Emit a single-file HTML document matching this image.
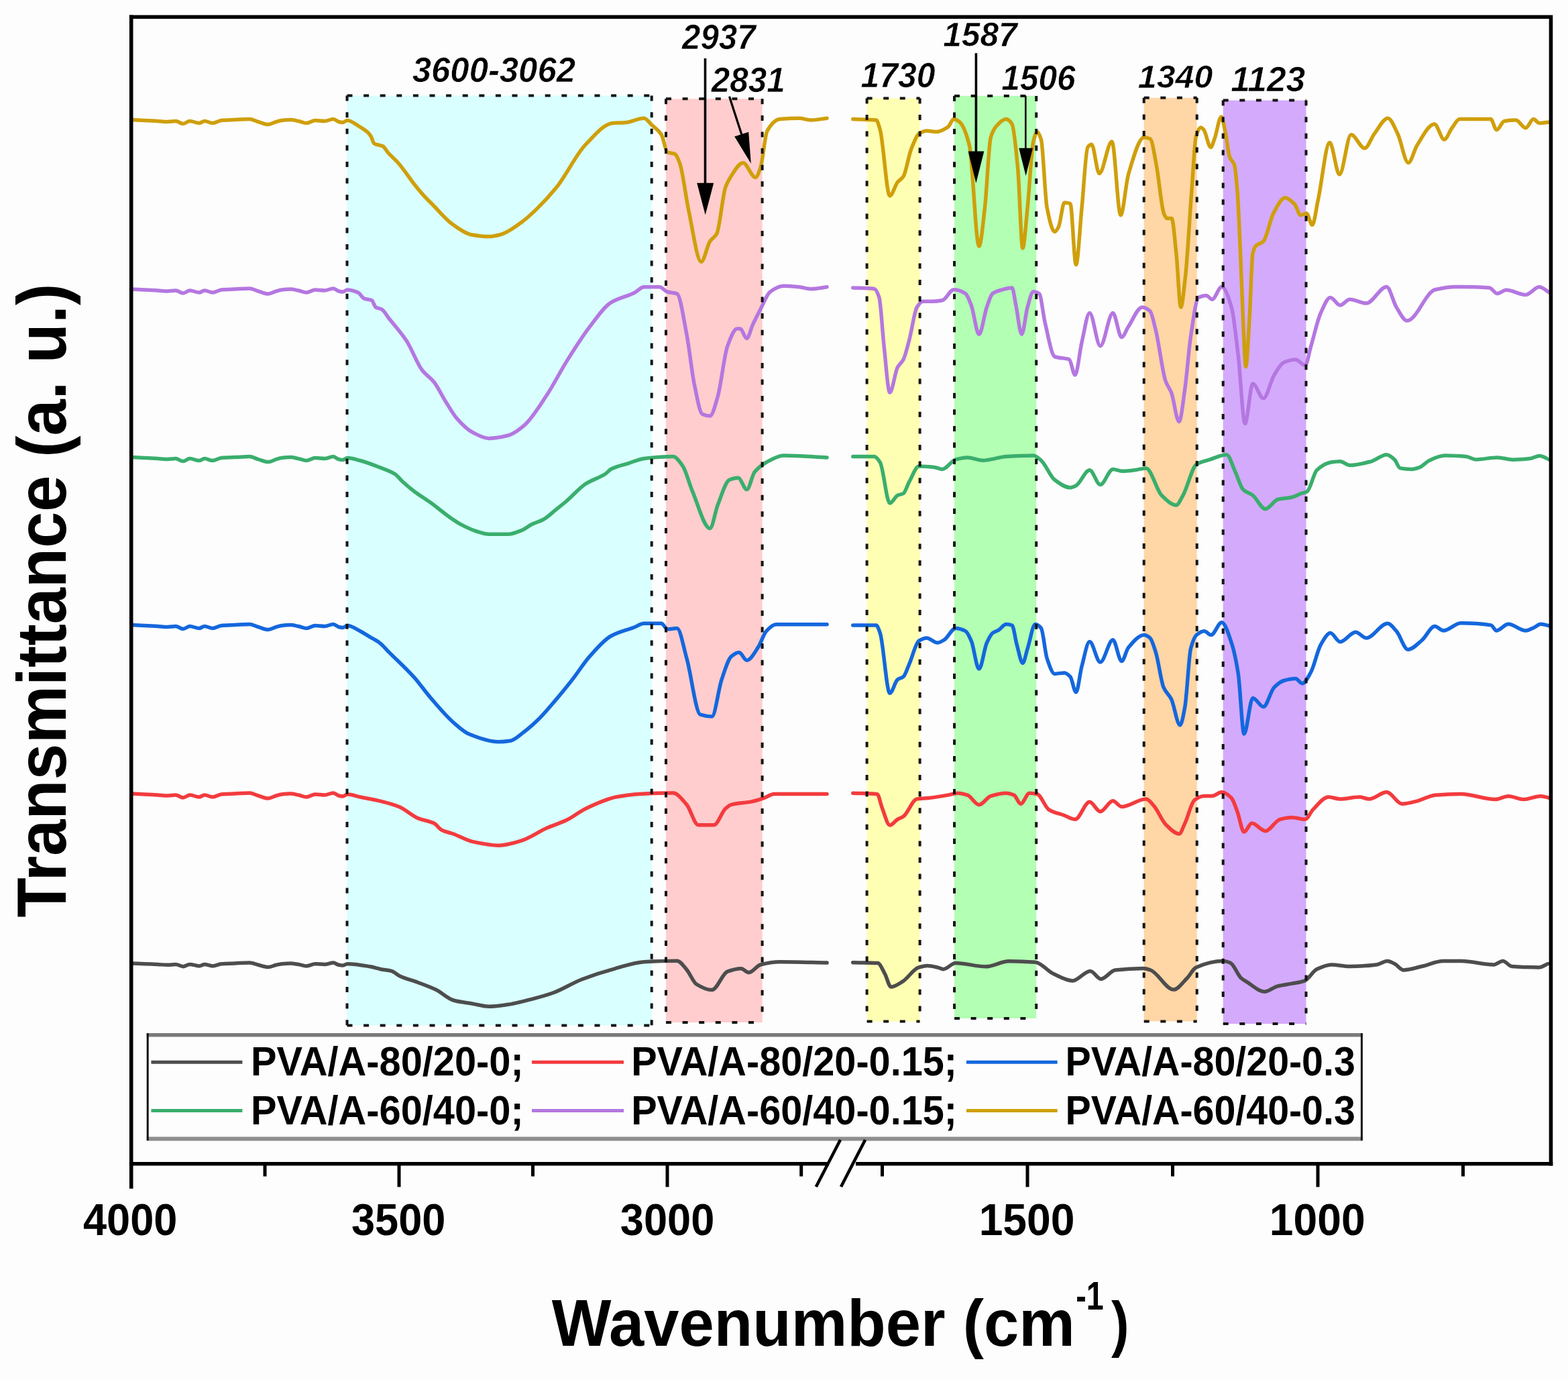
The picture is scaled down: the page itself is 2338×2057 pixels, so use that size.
<!DOCTYPE html>
<html><head><meta charset="utf-8"><title>FTIR spectra</title>
<style>html,body{margin:0;padding:0;background:#fdfdfd;overflow:hidden}svg{display:block}</style>
</head><body>
<svg width="2338" height="2057" viewBox="0 0 2338 2057">
<rect width="2338" height="2057" fill="#fdfdfd"/>
<rect x="517.5" y="142.6" width="454.2" height="1385.8" fill="#d9ffff"/>
<rect x="993" y="147.3" width="143.6" height="1376.7" fill="#ffcdcd"/>
<rect x="1292.6" y="146.4" width="79" height="1376.2" fill="#ffffb3"/>
<rect x="1423" y="142.9" width="122.2" height="1375.1" fill="#b3ffb3"/>
<rect x="1705.7" y="145.8" width="79" height="1376.6" fill="#ffd6a5"/>
<rect x="1823.7" y="149.6" width="123.8" height="1376.5" fill="#d4aafd"/>
<g fill="none" stroke-width="5.5" stroke-linejoin="round" stroke-linecap="round">
<path stroke="#4d4d4d" d="M196 1435.9C202.3 1436.2 208.7 1436.4 215 1436.7C221.7 1437 228.3 1437.2 235 1437.5C240 1437.7 245 1438.3 250 1438.3C254 1438.3 258 1437.5 262 1437.5C265.7 1437.5 269.3 1440.7 273 1440.7C276.3 1440.7 279.7 1437.5 283 1437.5C287.7 1437.5 292.3 1439.9 297 1439.9C299.7 1439.9 302.3 1437.5 305 1437.5C309 1437.5 313 1439.9 317 1439.9C321.3 1439.9 325.7 1437 330 1436.7C336.7 1436.2 343.3 1436.2 350 1435.9C357.3 1435.6 364.7 1435.1 372 1435.1C376.3 1435.1 380.7 1437.3 385 1438.3C390 1439.4 395 1441.5 400 1441.5C404 1441.5 408 1439.2 412 1438.3C414.7 1437.7 417.3 1437 420 1436.7C424.3 1436.3 428.7 1435.9 433 1435.9C437 1435.9 441 1436.9 445 1437.5C449 1438.1 453 1439.9 457 1439.9C461.3 1439.9 465.7 1436.7 470 1436.7C474.7 1436.7 479.3 1437.5 484 1437.5C488.3 1437.5 492.7 1435.1 497 1435.1C499.7 1435.1 502.3 1437.8 505 1438.3C507 1438.7 509 1439.1 511 1439.1C513.3 1439.1 515.7 1436.7 518 1436.7C529.3 1436.7 540.7 1438.9 552 1440.8C557.3 1441.7 562.5 1443.6 567.8 1444.7C573.1 1445.8 578.4 1446 583.7 1447.4C588.1 1448.6 592.5 1453.3 596.9 1455.3C605.7 1459.3 614.5 1461.2 623.3 1464.5C632.1 1467.8 640.9 1470.9 649.7 1475.1C658.5 1479.3 667.3 1488.6 676.1 1491C685.8 1493.7 695.5 1494.5 705.2 1496.2C713.1 1497.6 721 1500.2 728.9 1500.2C738.5 1500.2 748.2 1498.6 757.8 1497.3C770.3 1495.6 782.9 1491.9 795.4 1488.6C805.1 1486.1 814.7 1483.5 824.4 1480C838.9 1474.8 853.3 1465.3 867.8 1459.7C884.2 1453.4 900.5 1448.2 916.9 1443.8C931.4 1439.9 945.8 1434.5 960.3 1433.7C976.7 1432.8 993.1 1432.2 1009.5 1432.2C1014.3 1432.2 1019.1 1439.9 1023.9 1445.3C1028.7 1450.8 1033.6 1464 1038.4 1467C1046.1 1471.8 1053.8 1475.6 1061.5 1475.6C1069.2 1475.6 1077 1451 1084.7 1448.2C1091.4 1445.8 1098.2 1443.8 1104.9 1443.8C1108.8 1443.8 1112.6 1449.6 1116.5 1449.6C1122.3 1449.6 1128.1 1439.5 1133.9 1438C1143.5 1435.5 1153.2 1433.7 1162.8 1433.7C1186.2 1433.7 1209.6 1434.6 1233 1435.1"/>
<path stroke="#4d4d4d" d="M1271.7 1434.7C1284 1435 1296.4 1434.9 1308.7 1435.5C1312.2 1435.7 1315.8 1445.1 1319.3 1451.3C1322.4 1456.7 1325.4 1471.1 1328.5 1471.1C1334.2 1471.1 1340 1466.6 1345.7 1463.2C1353.6 1458.5 1361.6 1444.6 1369.5 1442.1C1373.9 1440.7 1378.3 1439.4 1382.7 1439.4C1388 1439.4 1393.2 1440.9 1398.5 1442.1C1401.1 1442.7 1403.8 1444.7 1406.4 1444.7C1412.6 1444.7 1418.7 1435.5 1424.9 1435.5C1439.9 1435.5 1454.9 1440.8 1469.9 1440.8C1481.3 1440.8 1492.8 1432.8 1504.2 1432.8C1517.4 1432.8 1530.6 1433.3 1543.8 1434.2C1552.6 1434.8 1561.5 1447.2 1570.3 1451.3C1580 1455.8 1589.6 1461.9 1599.3 1461.9C1608.1 1461.9 1616.9 1447.4 1625.7 1447.4C1631 1447.4 1636.3 1459.3 1641.6 1459.3C1648.6 1459.3 1655.7 1446.9 1662.7 1446C1676.8 1444.3 1690.9 1443.4 1705 1443.4C1708.5 1443.4 1712.1 1444.8 1715.6 1446C1727 1450 1738.5 1475.1 1749.9 1475.1C1756.6 1475.1 1763.3 1464.7 1770 1458C1774.5 1453.5 1779 1443.9 1783.5 1441.9C1796.9 1436 1810.4 1432.5 1823.8 1432.5C1827.4 1432.5 1831 1433.7 1834.6 1435.2C1840 1437.4 1845.3 1453.3 1850.7 1458C1853.4 1460.4 1856.1 1461.7 1858.8 1463.4C1867.8 1468.9 1876.7 1478.2 1885.7 1478.2C1892 1478.2 1898.2 1471.7 1904.5 1470.1C1911.7 1468.2 1918.9 1467.5 1926.1 1466.1C1932.4 1464.9 1938.6 1464.3 1944.9 1462.1C1951.2 1459.9 1957.4 1447.6 1963.7 1444.6C1970.9 1441.2 1978.1 1437.9 1985.3 1437.9C1994.3 1437.9 2003.2 1440.5 2012.2 1440.5C2025.6 1440.5 2039.1 1439.5 2052.5 1437.9C2057.9 1437.3 2063.3 1432.5 2068.7 1432.5C2072.3 1432.5 2075.8 1434.8 2079.4 1436.5C2083.9 1438.7 2088.4 1445.9 2092.9 1445.9C2101.9 1445.9 2110.8 1442.5 2119.8 1440.5C2130.6 1438.1 2141.3 1432.5 2152.1 1432.5C2161.1 1432.5 2170 1432.5 2179 1432.5C2195.1 1432.5 2211.3 1437.9 2227.4 1437.9C2231.9 1437.9 2236.4 1432.5 2240.9 1432.5C2245.4 1432.5 2249.8 1440.2 2254.3 1440.5C2267.8 1441.5 2281.2 1441.9 2294.7 1441.9C2299.2 1441.9 2303.7 1438.3 2308.2 1436.5"/>
<path stroke="#f33b3e" d="M196 1183C202.3 1183.3 208.7 1183.7 215 1184C221.7 1184.3 228.3 1184.6 235 1185C240 1185.3 245 1186 250 1186C254 1186 258 1185 262 1185C265.7 1185 269.3 1189 273 1189C276.3 1189 279.7 1185 283 1185C287.7 1185 292.3 1188 297 1188C299.7 1188 302.3 1185 305 1185C309 1185 313 1188 317 1188C321.3 1188 325.7 1184.4 330 1184C336.7 1183.4 343.3 1183.3 350 1183C357.3 1182.7 364.7 1182 372 1182C376.3 1182 380.7 1184.8 385 1186C390 1187.4 395 1190 400 1190C404 1190 408 1187.1 412 1186C414.7 1185.2 417.3 1184.3 420 1184C424.3 1183.5 428.7 1183 433 1183C437 1183 441 1184.2 445 1185C449 1185.8 453 1188 457 1188C461.3 1188 465.7 1184 470 1184C474.7 1184 479.3 1185 484 1185C488.3 1185 492.7 1182 497 1182C499.7 1182 502.3 1185.3 505 1186C507 1186.5 509 1187 511 1187C513.3 1187 515.7 1184 518 1184C524.4 1184 530.7 1186.7 537.1 1188C546.7 1190 556.4 1191.5 566 1193.8C575.7 1196.1 585.3 1198.6 595 1202.5C604.6 1206.4 614.3 1216 623.9 1219.9C631.6 1223 639.3 1223.4 647 1227.1C650.9 1229 654.7 1235.3 658.6 1237.2C664.4 1240.1 670.1 1240.9 675.9 1243C685.5 1246.5 695.2 1252.5 704.8 1254.6C717.7 1257.4 730.5 1260.2 743.4 1260.2C755 1260.2 766.5 1256.3 778.1 1252.9C790.6 1249.2 803.2 1239.6 815.7 1234.1C825.3 1229.9 835 1227.2 844.6 1222.6C854.2 1218 863.9 1209.7 873.5 1205.2C888.9 1197.9 904.4 1190.6 919.8 1187.8C931.4 1185.7 942.9 1184.1 954.5 1183.5C970.9 1182.7 987.3 1182.1 1003.7 1182.1C1010.4 1182.1 1017.2 1191.6 1023.9 1199.4C1029.7 1206.1 1035.5 1229.8 1041.3 1229.8C1049 1229.8 1056.7 1229.8 1064.4 1229.8C1070.2 1229.8 1076 1210.3 1081.8 1205.2C1084.7 1202.7 1087.6 1200.2 1090.5 1199.4C1100.1 1196.8 1109.8 1197 1119.4 1195.1C1126.1 1193.8 1132.9 1191.6 1139.6 1189.3C1144.4 1187.7 1149.3 1183.5 1154.1 1183.5C1180.4 1183.5 1206.7 1183.5 1233 1183.5"/>
<path stroke="#f33b3e" d="M1271.8 1182.2C1283.9 1182.7 1295.9 1182.4 1308 1183.7C1310.4 1184 1312.8 1197.9 1315.2 1203.9C1319.1 1213.6 1322.9 1230 1326.8 1230C1330.6 1230 1334.5 1223.6 1338.3 1221.3C1341.2 1219.6 1344.1 1219 1347 1217C1353.8 1212.4 1360.5 1191.9 1367.3 1190.9C1373.1 1190 1378.8 1190.1 1384.6 1189.5C1394.2 1188.5 1403.9 1186.8 1413.5 1185.1C1418.3 1184.3 1423.2 1182.2 1428 1182.2C1432.8 1182.2 1437.7 1183.6 1442.5 1185.1C1448.3 1186.9 1454 1199.6 1459.8 1199.6C1465.6 1199.6 1471.4 1188.4 1477.2 1186.6C1484.9 1184.2 1492.6 1182.2 1500.3 1182.2C1504.2 1182.2 1508 1183.5 1511.9 1185.1C1515.3 1186.5 1518.6 1198.2 1522 1198.2C1526.3 1198.2 1530.7 1182.2 1535 1182.2C1538.9 1182.2 1542.7 1182.8 1546.6 1183.7C1552.4 1185 1558.1 1203.3 1563.9 1206.8C1571.6 1211.5 1579.4 1212.6 1587.1 1215.5C1592.4 1217.5 1597.7 1221.3 1603 1221.3C1610.2 1221.3 1617.5 1195.3 1624.7 1195.3C1630 1195.3 1635.3 1209.7 1640.6 1209.7C1646.9 1209.7 1653.1 1193.8 1659.4 1193.8C1663.7 1193.8 1668.1 1202.5 1672.4 1202.5C1684.6 1202.5 1696.7 1191 1708.9 1191C1712.8 1191 1716.6 1196.8 1720.5 1201.1C1726.3 1207.5 1732.1 1222.8 1737.9 1228.6C1744.6 1235.3 1751.4 1243 1758.1 1243C1761 1243 1763.9 1233.1 1766.8 1227.1C1771.6 1217.2 1776.4 1195.7 1781.2 1192.4C1786 1189.1 1790.9 1186.6 1795.7 1186.6C1799.6 1186.6 1803.4 1186.6 1807.3 1186.6C1812.1 1186.6 1816.9 1180.8 1821.7 1180.8C1826.5 1180.8 1831.4 1184.6 1836.2 1189.5C1839.1 1192.4 1842 1202.2 1844.9 1209.8C1848.3 1218.6 1851.6 1240.1 1855 1240.1C1858.9 1240.1 1862.7 1227.1 1866.6 1227.1C1873.3 1227.1 1880.1 1238.7 1886.8 1238.7C1894 1238.7 1901.3 1223.2 1908.5 1221.3C1914.3 1219.7 1920.1 1218.4 1925.9 1218.4C1932.6 1218.4 1939.4 1221.3 1946.1 1221.3C1950 1221.3 1953.8 1210.8 1957.7 1206.9C1965.4 1199.1 1973.1 1188 1980.8 1188C1986.6 1188 1992.4 1191 1998.2 1191C2007.8 1191 2017.5 1188 2027.1 1188C2031.9 1188 2036.8 1191 2041.6 1191C2050.3 1191 2058.9 1180.8 2067.6 1180.8C2075.3 1180.8 2083 1198.2 2090.7 1198.2C2098.4 1198.2 2106.2 1195.7 2113.9 1193.8C2122.4 1191.7 2130.9 1185.9 2139.4 1185.2C2152.3 1184.1 2165.2 1183.5 2178.1 1183.5C2195.3 1183.5 2212.5 1191.6 2229.7 1191.6C2236.1 1191.6 2242.6 1186.8 2249 1186.8C2256.5 1186.8 2264.1 1191.6 2271.6 1191.6C2280.2 1191.6 2288.8 1186.8 2297.4 1186.8C2302.3 1186.8 2307.1 1188.9 2312 1190"/>
<path stroke="#1467dd" d="M196 931.5C202.3 931.8 208.7 932.2 215 932.5C221.7 932.8 228.3 933.1 235 933.5C240 933.8 245 934.5 250 934.5C254 934.5 258 933.5 262 933.5C265.7 933.5 269.3 937.5 273 937.5C276.3 937.5 279.7 933.5 283 933.5C287.7 933.5 292.3 936.5 297 936.5C299.7 936.5 302.3 933.5 305 933.5C309 933.5 313 936.5 317 936.5C321.3 936.5 325.7 932.9 330 932.5C336.7 931.9 343.3 931.8 350 931.5C357.3 931.2 364.7 930.5 372 930.5C376.3 930.5 380.7 933.3 385 934.5C390 935.9 395 938.5 400 938.5C404 938.5 408 935.6 412 934.5C414.7 933.7 417.3 932.8 420 932.5C424.3 932 428.7 931.5 433 931.5C437 931.5 441 932.7 445 933.5C449 934.3 453 936.5 457 936.5C461.3 936.5 465.7 932.5 470 932.5C474.7 932.5 479.3 933.5 484 933.5C488.3 933.5 492.7 930.5 497 930.5C499.7 930.5 502.3 933.8 505 934.5C507 935 509 935.5 511 935.5C513.3 935.5 515.7 932.5 518 932.5C524.4 932.5 530.7 937.5 537.1 940.7C541.9 943.1 546.7 946.5 551.5 949.4C556.3 952.3 561.2 954.5 566 958.1C570.8 961.7 575.7 967.8 580.5 972.6C593 985.1 605.5 996.2 618 1010.2C625.7 1018.9 633.5 1030.1 641.2 1039.1C652.8 1052.6 664.3 1066.6 675.9 1076.7C683.6 1083.4 691.3 1090.8 699 1094C713.8 1100.1 728.6 1105.7 743.4 1105.7C749.2 1105.7 754.9 1105.1 760.7 1104.2C767.5 1103.2 774.2 1096.2 781 1091.2C788.7 1085.5 796.4 1078.6 804.1 1071C811.8 1063.4 819.6 1054 827.3 1044.9C836 1034.8 844.6 1024.2 853.3 1013.1C862 1002 870.6 988.1 879.3 978.4C889.9 966.5 900.5 953.7 911.1 948C922.7 941.7 934.2 939.5 945.8 935C950.6 933.1 955.5 929.2 960.3 929.2C969 929.2 977.6 929.2 986.3 929.2C989.2 929.2 992.1 937.9 995 937.9C999.8 937.9 1004.7 936.5 1009.5 936.5C1014.3 936.5 1019.1 964.4 1023.9 981.3C1030.7 1005.1 1037.4 1063.1 1044.2 1065.2C1050 1067 1055.7 1068.1 1061.5 1068.1C1066.3 1068.1 1071.2 1027.3 1076 1013.1C1080.8 998.9 1085.7 982.3 1090.5 978.4C1094.3 975.3 1098.2 972.6 1102 972.6C1105.9 972.6 1109.7 984.2 1113.6 984.2C1119.4 984.2 1125.2 972.6 1131 963.9C1134.8 958.1 1138.7 944.8 1142.5 940.8C1147.3 935.7 1152.2 930.7 1157 930.7C1182.3 930.7 1207.7 930.7 1233 930.7"/>
<path stroke="#1467dd" d="M1271.8 932.1C1283.4 932.1 1294.9 932.1 1306.5 932.1C1308.4 932.1 1310.4 938.2 1312.3 943.6C1317.1 957.1 1322 1033.3 1326.8 1033.3C1330.6 1033.3 1334.5 1015.9 1338.3 1013C1341.2 1010.8 1344.1 1011 1347 1008.7C1349.9 1006.4 1352.8 996.5 1355.7 989.9C1360.5 979 1365.4 958.2 1370.2 955.2C1374 952.8 1377.9 950.9 1381.7 950.9C1387 950.9 1392.3 958.1 1397.6 958.1C1401 958.1 1404.4 955.8 1407.8 953.8C1413.6 950.5 1419.3 936.4 1425.1 936.4C1429.9 936.4 1434.8 938.1 1439.6 940.7C1442.5 942.2 1445.3 948.7 1448.2 955.2C1452.1 963.9 1455.9 997.1 1459.8 997.1C1463.7 997.1 1467.5 966.6 1471.4 958.1C1474.3 951.8 1477.1 945.8 1480 943.6C1482.9 941.4 1485.8 941 1488.7 939.3C1492.6 937 1496.4 930.6 1500.3 930.6C1503.2 930.6 1506.1 931.1 1509 932.1C1511.4 932.9 1513.8 952.5 1516.2 961C1519.1 971.3 1522 988.5 1524.9 988.5C1527.3 988.5 1529.7 974.1 1532.1 966.8C1536 955 1539.8 930.6 1543.7 930.6C1546.6 930.6 1549.5 933 1552.4 936.4C1555.3 939.8 1558.2 972.6 1561.1 981.2C1564.9 992.5 1568.8 1004.4 1572.6 1004.4C1577.4 1004.4 1582.3 1002.9 1587.1 1002.9C1590 1002.9 1592.9 1005.6 1595.8 1008.7C1598.7 1011.8 1601.5 1031.8 1604.4 1031.8C1607.3 1031.8 1610.2 1003.6 1613.1 992.8C1617 978.4 1620.8 956.6 1624.7 956.6C1630 956.6 1635.3 987 1640.6 987C1646.9 987 1653.1 953.8 1659.4 953.8C1663.7 953.8 1668.1 985.6 1672.4 985.6C1675.8 985.6 1679.1 969.4 1682.5 965.3C1690.3 955.8 1698.2 946.5 1706 946.5C1708.9 946.5 1711.8 948.5 1714.7 950.9C1717.6 953.3 1720.5 963.4 1723.4 972.6C1727.3 984.8 1731.1 1015.9 1735 1024.6C1738.8 1033.3 1742.7 1034.3 1746.5 1042C1750.8 1050.7 1755.2 1081 1759.5 1081C1761.9 1081 1764.4 1066.7 1766.8 1053.6C1769.7 1038 1772.6 977.9 1775.5 966.8C1778.4 955.9 1781.2 948.9 1784.1 946.5C1788 943.2 1791.8 940.7 1795.7 940.7C1799.1 940.7 1802.4 946.5 1805.8 946.5C1811.1 946.5 1816.4 927.7 1821.7 927.7C1826.5 927.7 1831.4 943.9 1836.2 958.1C1839.6 968 1842.9 982.8 1846.3 1004.4C1849.2 1023 1852.1 1094 1855 1094C1859.3 1094 1863.7 1040.5 1868 1040.5C1873.3 1040.5 1878.6 1053.6 1883.9 1053.6C1889.2 1053.6 1894.5 1029.9 1899.8 1024.6C1904.6 1019.8 1909.5 1015.8 1914.3 1014.5C1920.1 1012.9 1925.9 1011.6 1931.7 1011.6C1935.1 1011.6 1938.4 1018.8 1941.8 1018.8C1946.1 1018.8 1950.5 1009.3 1954.8 1001.5C1959.6 992.8 1964.5 969.1 1969.3 961C1974.1 952.9 1978.9 943.6 1983.7 943.6C1988.5 943.6 1993.4 956.7 1998.2 956.7C2005.9 956.7 2013.6 942.2 2021.3 942.2C2026.6 942.2 2031.9 950.9 2037.2 950.9C2047.8 950.9 2058.4 929.2 2069 929.2C2073.4 929.2 2077.7 935.8 2082.1 940.7C2087.9 947.1 2093.6 968.2 2099.4 968.2C2106.3 968.2 2113.1 960.2 2120 954.5C2126.5 949.2 2132.9 933.5 2139.4 933.5C2143.7 933.5 2148 940 2152.3 940C2160.9 940 2169.5 928.7 2178.1 928.7C2193.1 928.7 2208.2 929.4 2223.2 931.9C2225.9 932.3 2228.6 940 2231.3 940C2237.2 940 2243.1 930.3 2249 930.3C2257.6 930.3 2266.2 940 2274.8 940C2279.1 940 2283.4 937.1 2287.7 935.2C2290.9 933.8 2294.2 930.3 2297.4 930.3C2302.3 930.3 2307.1 932.4 2312 933.5"/>
<path stroke="#3aae6d" d="M196 681.6C202.3 681.9 208.7 682.3 215 682.6C221.7 682.9 228.3 683.2 235 683.6C240 683.9 245 684.6 250 684.6C254 684.6 258 683.6 262 683.6C265.7 683.6 269.3 687.6 273 687.6C276.3 687.6 279.7 683.6 283 683.6C287.7 683.6 292.3 686.6 297 686.6C299.7 686.6 302.3 683.6 305 683.6C309 683.6 313 686.6 317 686.6C321.3 686.6 325.7 683 330 682.6C336.7 682 343.3 681.9 350 681.6C357.3 681.3 364.7 680.6 372 680.6C376.3 680.6 380.7 683.4 385 684.6C390 686 395 688.6 400 688.6C404 688.6 408 685.7 412 684.6C414.7 683.8 417.3 682.9 420 682.6C424.3 682.1 428.7 681.6 433 681.6C437 681.6 441 682.8 445 683.6C449 684.4 453 686.6 457 686.6C461.3 686.6 465.7 682.6 470 682.6C474.7 682.6 479.3 683.6 484 683.6C488.3 683.6 492.7 680.6 497 680.6C499.7 680.6 502.3 683.9 505 684.6C507 685.1 509 685.6 511 685.6C513.3 685.6 515.7 682.6 518 682.6C524.3 682.6 530.7 684.9 537 686.5C546.7 689 556.3 692.8 566 696.6C573.7 699.6 581.4 701.8 589.1 706.7C593 709.2 596.8 714.8 600.7 718.3C606.5 723.6 612.2 728.3 618 732.7C625.7 738.5 633.5 743.1 641.2 748.6C652.8 756.9 664.3 767 675.9 774.7C679.8 777.3 683.6 779.9 687.5 781.9C695.2 785.9 702.9 789.7 710.6 792C716.7 793.8 722.8 796.2 728.9 796.2C738.5 796.2 748.2 796.2 757.8 796.2C764.6 796.2 771.3 793.1 778.1 790.4C782.9 788.5 787.8 784.1 792.6 781.7C798.4 778.9 804.1 777.6 809.9 774.5C816.7 770.9 823.4 764 830.2 758.6C835 754.8 839.8 751.1 844.6 747C854.2 738.9 863.9 727.2 873.5 721C883.2 714.8 892.8 712.8 902.5 706.5C905.4 704.6 908.2 700.8 911.1 699.3C919.8 694.8 928.5 693.4 937.2 690.6C944.9 688.1 952.6 684.3 960.3 683.4C974.8 681.7 989.2 680.5 1003.7 680.5C1008.5 680.5 1013.4 688 1018.2 695C1023 701.9 1027.8 721.3 1032.6 732.6C1041.3 753 1049.9 787.5 1058.6 787.5C1062.5 787.5 1066.3 762.6 1070.2 752.8C1076 738.1 1081.8 717.5 1087.6 715.2C1091.9 713.5 1096.3 712.3 1100.6 712.3C1104.9 712.3 1109.3 729.7 1113.6 729.7C1117.5 729.7 1121.3 708.4 1125.2 703.6C1131 696.4 1136.7 692.3 1142.5 689.2C1151.2 684.5 1159.9 679 1168.6 679C1190.1 679 1211.5 680.9 1233 681.9"/>
<path stroke="#3aae6d" d="M1271.8 680.6C1282.4 680.6 1293 680.6 1303.6 680.6C1306.5 680.6 1309.4 684.8 1312.3 689.2C1317.1 696.6 1322 750 1326.8 750C1330.6 750 1334.5 740.3 1338.3 738.4C1341.2 737 1344.1 737.2 1347 735.5C1349.9 733.8 1352.8 723.4 1355.7 718.2C1360.5 709.6 1365.4 695 1370.2 695C1377.9 695 1385.6 695.7 1393.3 696.5C1397.2 696.9 1401 699.4 1404.9 699.4C1411.6 699.4 1418.4 686.7 1425.1 684.9C1430.9 683.4 1436.7 682 1442.5 682C1450.2 682 1457.9 686.3 1465.6 686.3C1477.2 686.3 1488.7 681.3 1500.3 680.6C1513.8 679.8 1527.3 679.1 1540.8 679.1C1544.7 679.1 1548.5 683.1 1552.4 686.3C1559.1 691.9 1565.9 710.3 1572.6 715.3C1580.3 721.1 1588.1 726.8 1595.8 726.8C1598.7 726.8 1601.5 725.3 1604.4 723.9C1611.2 720.6 1617.9 700.8 1624.7 700.8C1630 700.8 1635.3 722.5 1640.6 722.5C1646.9 722.5 1653.1 699.4 1659.4 699.4C1664.2 699.4 1669 702.2 1673.8 702.2C1679.6 702.2 1685.4 701.4 1691.2 700.8C1697.1 700.2 1703 697.9 1708.9 697.9C1716.6 697.9 1724.4 731 1732.1 738.4C1739.3 745.4 1746.6 752.9 1753.8 752.9C1757.2 752.9 1760.5 744.2 1763.9 738.4C1770.6 726.8 1777.4 696.2 1784.1 692.1C1790.9 687.9 1797.6 687.1 1804.4 684.9C1812.6 682.3 1820.8 677.7 1829 677.7C1833.3 677.7 1837.7 694.5 1842 703.7C1845.9 711.9 1849.7 725.9 1853.6 729.7C1858.4 734.4 1863.2 734.7 1868 738.4C1874.3 743.2 1880.5 758.7 1886.8 758.7C1893.1 758.7 1899.3 745.7 1905.6 744.2C1912.4 742.6 1919.1 742.8 1925.9 741.3C1930.7 740.3 1935.5 737.2 1940.3 735.5C1943.2 734.5 1946.1 734.2 1949 732.6C1953.8 730 1958.7 705.3 1963.5 700.8C1970.2 694.5 1977 690.4 1983.7 689.3C1988.5 688.5 1993.4 687.8 1998.2 687.8C2003 687.8 2007.8 693.6 2012.6 693.6C2023.2 693.6 2033.9 690.6 2044.5 687.8C2052.2 685.8 2059.9 677.7 2067.6 677.7C2071.5 677.7 2075.3 681.4 2079.2 684.9C2082.1 687.5 2084.9 697.4 2087.8 697.9C2093.6 699 2099.4 699.4 2105.2 699.4C2109.1 699.4 2112.9 697.9 2116.8 696.5C2121.6 694.8 2126.4 688.5 2131.2 686.4C2138.9 682.9 2146.7 679.1 2154.4 679.1C2165 679.1 2175.6 679.7 2186.2 680.6C2191 681 2195.9 684.9 2200.7 684.9C2211.4 684.9 2222.2 681.9 2232.9 681.9C2240.4 681.9 2248 685.2 2255.5 685.2C2264.1 685.2 2272.7 684.5 2281.3 683.5C2286.1 683 2291 679.4 2295.8 679.4C2300.6 679.4 2305.5 683.3 2310.3 685.2"/>
<path stroke="#b477e0" d="M196 431C202.3 431.3 208.7 431.7 215 432C221.7 432.3 228.3 432.6 235 433C240 433.3 245 434 250 434C254 434 258 433 262 433C265.7 433 269.3 437 273 437C276.3 437 279.7 433 283 433C287.7 433 292.3 436 297 436C299.7 436 302.3 433 305 433C309 433 313 436 317 436C321.3 436 325.7 432.4 330 432C336.7 431.4 343.3 431.3 350 431C357.3 430.7 364.7 430 372 430C376.3 430 380.7 432.8 385 434C390 435.4 395 438 400 438C404 438 408 435.1 412 434C414.7 433.2 417.3 432.3 420 432C424.3 431.5 428.7 431 433 431C437 431 441 432.2 445 433C449 433.8 453 436 457 436C461.3 436 465.7 432 470 432C474.7 432 479.3 433 484 433C488.3 433 492.7 430 497 430C499.7 430 502.3 433.3 505 434C507 434.5 509 435 511 435C513.3 435 515.7 432 518 432C523.4 432 528.8 433.9 534.2 436.3C537.1 437.6 540 443.8 542.9 445C546.7 446.5 550.6 446 554.4 447.8C556.3 448.7 558.3 456.9 560.2 458C563.1 459.7 566 459.4 568.9 460.9C572.8 462.9 576.6 470.4 580.5 475.3C589.2 486.2 597.8 495.3 606.5 508.6C614.2 520.4 621.9 542.1 629.6 552C635.4 559.4 641.2 562.1 647 569.3C652.8 576.5 658.5 589.1 664.3 598.2C670.1 607.4 675.9 617.8 681.7 624.3C689.4 632.9 697.1 640.5 704.8 644.5C712.8 648.7 720.9 653.4 728.9 653.4C738.5 653.4 748.2 651.4 757.8 649C765.5 647.1 773.3 641 781 634.6C792.6 625 804.1 605.7 815.7 588.3C825.3 573.8 835 554.5 844.6 539.1C856.2 520.6 867.7 502 879.3 487.1C889.9 473.4 900.5 457.4 911.1 450.9C922.7 443.8 934.2 442.3 945.8 436.5C950.6 434.1 955.5 427.8 960.3 427.8C968 427.8 975.7 427.8 983.4 427.8C987.3 427.8 991.1 433.8 995 435C999.8 436.5 1004.7 436.1 1009.5 437.9C1014.3 439.7 1019.1 473.9 1023.9 498.6C1027.8 518.5 1031.6 555.6 1035.5 573.9C1039.4 592.2 1043.2 615.4 1047.1 617.2C1050.9 619 1054.8 620.1 1058.6 620.1C1062.5 620.1 1066.3 604 1070.2 591.2C1075 575.1 1079.9 528.9 1084.7 516C1089.5 503.2 1094.3 490 1099.1 490C1100.6 490 1102 490 1103.5 490C1106.9 490 1110.2 504.4 1113.6 504.4C1116.5 504.4 1119.4 490.5 1122.3 484.2C1126.2 475.9 1130 468.4 1133.9 461C1138.7 451.9 1143.5 438.4 1148.3 435C1155.1 430.1 1161.8 426.3 1168.6 426.3C1176.3 426.3 1184 427.1 1191.7 427.8C1197.5 428.4 1203.2 430.7 1209 430.7C1217 430.7 1225 428.8 1233 427.8"/>
<path stroke="#b477e0" d="M1271.8 428.9C1282.4 429.4 1293 429.2 1303.6 430.4C1306 430.7 1308.5 436 1310.9 443.4C1313.3 450.7 1315.7 494.3 1318.1 515.7C1321 541.6 1323.9 585.1 1326.8 585.1C1330.6 585.1 1334.5 554.6 1338.3 547.5C1341.2 542.1 1344.1 541.4 1347 535.9C1349.9 530.4 1352.8 517.7 1355.7 507C1359.6 492.7 1363.4 463.9 1367.3 457.8C1370.2 453.3 1373 449.2 1375.9 449.2C1380.7 449.2 1385.6 449.2 1390.4 449.2C1395.2 449.2 1400.1 448.6 1404.9 447.7C1410.7 446.7 1416.4 431.8 1422.2 431.8C1428 431.8 1433.8 434 1439.6 437.6C1442.5 439.4 1445.3 447.6 1448.2 455C1452.1 465 1455.9 498.3 1459.8 498.3C1463.7 498.3 1467.5 468.6 1471.4 457.8C1474.3 449.8 1477.1 439.7 1480 437.6C1484.8 434.1 1489.7 433.1 1494.5 431.8C1499.3 430.5 1504.2 428.9 1509 428.9C1510.9 428.9 1512.9 445.8 1514.8 455C1517.7 468.6 1520.5 498.3 1523.4 498.3C1526.3 498.3 1529.2 467.6 1532.1 457.8C1535 448 1537.9 434.7 1540.8 434.7C1543.7 434.7 1546.6 435.8 1549.5 437.6C1552.4 439.4 1555.3 468.9 1558.2 481C1563 501.1 1567.8 529.7 1572.6 531.6C1579.8 534.5 1587.1 532.9 1594.3 535.9C1597.2 537.1 1600.1 559.1 1603 559.1C1606.4 559.1 1609.7 524.2 1613.1 509.9C1617 493.5 1620.8 466.5 1624.7 466.5C1630 466.5 1635.3 515.7 1640.6 515.7C1646.9 515.7 1653.1 466.5 1659.4 466.5C1663.7 466.5 1668.1 502.7 1672.4 502.7C1675.8 502.7 1679.1 491.8 1682.5 486.8C1689.4 476.5 1696.2 457.9 1703.1 457.9C1707 457.9 1710.8 460.2 1714.7 463.6C1717.6 466.2 1720.5 481 1723.4 492.6C1728.2 511.9 1733.1 554.3 1737.9 567.8C1740.8 575.8 1743.6 577.7 1746.5 585.1C1750.4 595.1 1754.2 628.5 1758.1 628.5C1761 628.5 1763.9 599.4 1766.8 579.3C1769.7 559.2 1772.6 520.1 1775.5 501.2C1779.3 476.2 1783.2 445.2 1787 443.4C1790.9 441.6 1794.7 440.5 1798.6 440.5C1801.5 440.5 1804.4 446.3 1807.3 446.3C1812.1 446.3 1816.9 427.5 1821.7 427.5C1826.5 427.5 1831.4 441.7 1836.2 457.9C1839.6 469.2 1842.9 502.1 1846.3 530.2C1849.7 558.3 1853 631.4 1856.4 631.4C1860.3 631.4 1864.1 572.1 1868 572.1C1873.3 572.1 1878.6 593.8 1883.9 593.8C1889.2 593.8 1894.5 567.7 1899.8 559.1C1904.6 551.3 1909.5 542.3 1914.3 540.3C1920.1 537.8 1925.9 536 1931.7 536C1936.5 536 1941.3 544.6 1946.1 544.6C1949 544.6 1951.9 525.4 1954.8 515.7C1959.6 499.5 1964.5 477 1969.3 466.5C1974.1 456 1978.9 443.4 1983.7 443.4C1988.5 443.4 1993.4 455 1998.2 455C2003 455 2007.8 446.3 2012.6 446.3C2020.8 446.3 2029 452.1 2037.2 452.1C2047.3 452.1 2057.5 427.5 2067.6 427.5C2072.4 427.5 2077.3 450.2 2082.1 457.9C2087.4 466.3 2092.7 478.1 2098 478.1C2112 478.1 2125.9 435 2139.9 431.8C2150.5 429.3 2161.1 427.5 2171.7 427.5C2188.1 427.5 2204.5 427.8 2220.9 428.9C2224.8 429.2 2228.6 437.6 2232.5 437.6C2237 437.6 2241.5 432.2 2246 432.2C2255.6 432.2 2265.3 439.4 2274.9 439.4C2281.6 439.4 2288.4 427.8 2295.1 427.8C2300.4 427.8 2305.7 433.6 2311 436.5"/>
<path stroke="#cf9f0b" d="M196 178.5C202.3 178.8 208.7 179.2 215 179.5C221.7 179.8 228.3 180.1 235 180.5C240 180.8 245 181.5 250 181.5C254 181.5 258 180.5 262 180.5C265.7 180.5 269.3 184.5 273 184.5C276.3 184.5 279.7 180.5 283 180.5C287.7 180.5 292.3 183.5 297 183.5C299.7 183.5 302.3 180.5 305 180.5C309 180.5 313 183.5 317 183.5C321.3 183.5 325.7 179.9 330 179.5C336.7 178.9 343.3 178.8 350 178.5C357.3 178.2 364.7 177.5 372 177.5C376.3 177.5 380.7 180.3 385 181.5C390 182.9 395 185.5 400 185.5C404 185.5 408 182.6 412 181.5C414.7 180.7 417.3 179.8 420 179.5C424.3 179 428.7 178.5 433 178.5C437 178.5 441 179.7 445 180.5C449 181.3 453 183.5 457 183.5C461.3 183.5 465.7 179.5 470 179.5C474.7 179.5 479.3 180.5 484 180.5C488.3 180.5 492.7 177.5 497 177.5C499.7 177.5 502.3 180.8 505 181.5C507 182 509 182.5 511 182.5C513.3 182.5 515.7 179.5 518 179.5C523.6 179.5 529.2 184.7 534.8 188C539.2 190.6 543.6 193 548 197C549.7 198.5 551.3 200.4 553 203C554.7 205.6 556.3 213 558 214C562.3 216.6 566.7 215.8 571 218C573.7 219.4 576.3 225 579 228C584.2 233.8 589.3 237.8 594.5 243.7C602.3 252.6 610 265 617.8 274.8C622.1 280.2 626.5 285.6 630.8 290.4C635.9 296 640.9 300.9 646 306C655.7 315.7 665.3 327.7 675 334.5C684.4 341.1 693.9 348.4 703.3 350C711.8 351.4 720.4 352.6 728.9 352.6C734.7 352.6 740.5 351.1 746.3 349.7C756.9 347.1 767.5 338.5 778.1 330.9C785.8 325.4 793.5 318.1 801.2 310.6C810.9 301.2 820.5 290.8 830.2 278.8C844.6 260.8 859.1 229.9 873.5 215.2C887 201.4 900.5 184.2 914 183.4C919.8 183.1 925.6 183.1 931.4 182.8C941 182.3 950.7 176.2 960.3 176.2C964.2 176.2 968 182.7 971.9 186.3C976.7 190.8 981.5 193.2 986.3 200.7C989.2 205.2 992.1 225.4 995 226.8C998.9 228.7 1002.7 227.9 1006.6 229.7C1009 230.8 1011.4 237.4 1013.8 244.1C1018.1 256.2 1022.5 293.3 1026.8 313.5C1033.1 342.7 1039.3 390.2 1045.6 390.2C1049.9 390.2 1054.3 366.3 1058.6 359.8C1062 354.7 1065.4 354.5 1068.8 348.3C1073.1 340.4 1077.5 290.9 1081.8 278.8C1084.2 272.1 1086.6 268.1 1089 264.4C1095.3 254.8 1101.5 242.7 1107.8 242.7C1114.1 242.7 1120.3 264.4 1126.6 264.4C1129 264.4 1131.5 256.8 1133.9 249.9C1137.3 240.3 1140.6 200.7 1144 195C1150.3 184.3 1156.5 178.2 1162.8 177.6C1172.4 176.7 1182.1 176.2 1191.7 176.2C1197.5 176.2 1203.2 179 1209 179C1217 179 1225 177.1 1233 176.2"/>
<path stroke="#cf9f0b" d="M1271.8 177.6C1283.4 178.1 1294.9 177.8 1306.5 179.1C1308.4 179.3 1310.4 186.9 1312.3 193.5C1317.1 210 1322 291.9 1326.8 291.9C1330.6 291.9 1334.5 276.4 1338.3 271.6C1341.2 268 1344.1 267.4 1347 263C1350.9 257.2 1354.7 232.3 1358.6 222.5C1362.5 212.7 1366.3 201.7 1370.2 199.3C1374 196.9 1377.9 195 1381.7 195C1386.5 195 1391.4 196.4 1396.2 196.4C1402 196.4 1407.7 193.1 1413.5 189.2C1416.4 187.2 1419.3 177.6 1422.2 177.6C1425.1 177.6 1428 179.7 1430.9 182C1435.7 185.8 1440.6 197.9 1445.4 216.7C1450.2 235.4 1455 367.1 1459.8 367.1C1462.7 367.1 1465.6 334 1468.5 309.2C1471.4 284.4 1474.3 215.1 1477.2 205.1C1480.1 195.2 1482.9 190.9 1485.8 187.8C1490.6 182.5 1495.5 177.6 1500.3 177.6C1503.2 177.6 1506.1 180.5 1509 184.9C1511.9 189.3 1514.8 220.8 1517.7 251.4C1520.1 276.8 1522.5 370 1524.9 370C1527.3 370 1529.7 332.3 1532.1 309.2C1535 281.3 1537.9 222.3 1540.8 210.9C1542.7 203.3 1544.7 196.4 1546.6 196.4C1548.5 196.4 1550.5 201.7 1552.4 208C1555.3 217.5 1558.2 294.4 1561.1 309.2C1564.9 328.7 1568.8 345.4 1572.6 345.4C1574.5 345.4 1576.5 341.8 1578.4 338.2C1581.3 332.8 1584.2 302 1587.1 302C1590 302 1592.9 302.5 1595.8 303.5C1598.7 304.5 1601.5 394.6 1604.4 394.6C1607.3 394.6 1610.2 338.3 1613.1 309.2C1616 280.1 1618.9 223.5 1621.8 219.6C1623.7 217 1625.7 215.2 1627.6 215.2C1631.4 215.2 1635.3 258.6 1639.1 258.6C1645.4 258.6 1651.6 210.9 1657.9 210.9C1662.3 210.9 1666.6 320.8 1671 320.8C1674.8 320.8 1678.7 273.1 1682.5 260C1690.3 233.3 1698.2 204.7 1706 204.7C1709 204.7 1712.1 205.6 1715.1 207C1718.1 208.4 1721.2 230.4 1724.2 245.8C1728 265.1 1731.8 310.4 1735.6 318.8C1737.1 322.2 1738.7 325.6 1740.2 325.6C1742.5 325.6 1744.7 325.6 1747 325.6C1749.3 325.6 1751.6 356.8 1753.9 378C1756.2 398.9 1758.4 457.9 1760.7 457.9C1763 457.9 1765.2 432.3 1767.5 412.3C1770.6 385.2 1773.6 326.5 1776.7 286.8C1779 257.4 1781.2 209.8 1783.5 202.5C1785.8 195.2 1788 189.9 1790.3 189.9C1791.8 189.9 1793.4 191.7 1794.9 193.3C1798.3 197 1801.8 219.6 1805.2 219.6C1807.1 219.6 1809 211.9 1810.9 207C1814.3 198.2 1817.7 173.9 1821.1 173.9C1823 173.9 1824.9 187 1826.8 195.6C1829.1 206 1831.4 228.5 1833.7 234.4C1836 240.2 1838.2 239.1 1840.5 245.8C1842 250.3 1843.6 267.8 1845.1 286.8C1846.6 305.4 1848.1 344.6 1849.6 378C1851.1 412.2 1852.7 462.5 1854.2 492.1C1855.3 514 1856.5 546.8 1857.6 546.8C1859.5 546.8 1861.4 500.2 1863.3 469.3C1864.8 444.4 1866.4 384.9 1867.9 378C1869.4 371.3 1870.9 368.2 1872.4 366.6C1876.2 362.6 1880 363.4 1883.8 359.8C1888.8 355 1893.8 327 1898.8 317.9C1904.6 307.4 1910.4 294.8 1916.2 294.8C1921 294.8 1925.9 299.8 1930.7 304.9C1933.6 307.9 1936.4 320.8 1939.3 320.8C1942.2 320.8 1945.1 317.9 1948 317.9C1950.9 317.9 1953.8 335.3 1956.7 335.3C1959.6 335.3 1962.5 311 1965.4 297.7C1971.2 271.3 1976.9 212.4 1982.7 212.4C1987.5 212.4 1992.4 260.1 1997.2 260.1C2003 260.1 2008.8 200.8 2014.6 200.8C2021.3 200.8 2028.1 221 2034.8 221C2039.6 221 2044.5 205.6 2049.3 199.3C2056 190.5 2062.8 176.2 2069.5 176.2C2074.3 176.2 2079.2 189.6 2084 199.3C2089.3 209.9 2094.6 242.7 2099.9 242.7C2104.2 242.7 2108.6 223.5 2112.9 216.7C2121.6 203.2 2130.2 184.9 2138.9 184.9C2143.7 184.9 2148.6 208 2153.4 208C2157.3 208 2161.1 195.7 2165 190.7C2168.8 185.7 2172.7 177.6 2176.5 177.6C2191.9 177.6 2207.4 177.6 2222.8 177.6C2225.7 177.6 2228.6 193.6 2231.5 193.6C2235.4 193.6 2239.2 181.1 2243.1 180.5C2248.9 179.6 2254.6 179.1 2260.4 179.1C2265.2 179.1 2270.1 190.7 2274.9 190.7C2278.8 190.7 2282.6 177.6 2286.5 177.6C2289.4 177.6 2292.2 183.4 2295.1 183.4C2300.4 183.4 2305.7 182.5 2311 182"/>
</g>
<g stroke="#141414" stroke-width="4" stroke-dasharray="8 16.6" fill="none">
<path d="M517.5 142.6H971.7"/>
<path d="M517.5 142.6V1528.4"/>
<path d="M971.7 142.6V1528.4"/>
<path d="M517.5 1528.4H971.7"/>
<path d="M993 147.3H1136.6"/>
<path d="M993 147.3V1524"/>
<path d="M1136.6 147.3V1524"/>
<path d="M993 1524H1136.6"/>
<path d="M1292.6 146.4H1371.6"/>
<path d="M1292.6 146.4V1522.6"/>
<path d="M1371.6 146.4V1522.6"/>
<path d="M1292.6 1522.6H1371.6"/>
<path d="M1423 142.9H1545.2"/>
<path d="M1423 142.9V1518"/>
<path d="M1545.2 142.9V1518"/>
<path d="M1423 1518H1545.2"/>
<path d="M1705.7 145.8H1784.7"/>
<path d="M1705.7 145.8V1522.4"/>
<path d="M1784.7 145.8V1522.4"/>
<path d="M1705.7 1522.4H1784.7"/>
<path d="M1823.7 149.6H1947.5"/>
<path d="M1823.7 149.6V1526.1"/>
<path d="M1947.5 149.6V1526.1"/>
<path d="M1823.7 1526.1H1947.5"/>
</g>
<g fill="#000" stroke="#000">
<path d="M1051.5 87V280" stroke-width="3.6"/>
<path d="M1039.2 272.7H1064.2L1051.7 320.2Z" stroke="none"/>
<path d="M1087.5 143.7L1106 201" stroke-width="3.2"/>
<path d="M1116.2 196.7L1095.2 203.5L1119.8 243.8Z" stroke="none"/>
<path d="M1455.4 79.3V232" stroke-width="3.6"/>
<path d="M1443.6 225.4H1467.3L1455.4 272.9Z" stroke="none"/>
<path d="M1529.3 142.8V226" stroke-width="2.6"/>
<path d="M1519.3 220.8H1540L1529.6 262.1Z" stroke="none"/>
</g>
<g stroke="#000" stroke-width="5.6" fill="none" stroke-linecap="square">
<path d="M195.7 25.3H2312.5V1734.8"/>
<path d="M195.7 25.3V1769"/>
<path d="M195.7 1734.8H1234.4"/>
<path d="M1277.4 1734.8H2312.5"/>
</g>
<g stroke="#000" stroke-width="5" fill="none">
<path d="M595 1734.8V1769.3"/>
<path d="M995 1734.8V1769.3"/>
<path d="M1532 1734.8V1769.3"/>
<path d="M1965 1734.8V1769.3"/>
<path d="M395 1734.8V1753.5"/>
<path d="M794.5 1734.8V1753.5"/>
<path d="M1194.7 1734.8V1753.5"/>
<path d="M1315.5 1734.8V1753.5"/>
<path d="M1748.5 1734.8V1753.5"/>
<path d="M2181.5 1734.8V1753.5"/>
</g>
<rect x="220.2" y="1542.8" width="1810.2" height="154.6" fill="#fdfdfd"/>
<path d="M218.7 1542.8H2031.9" stroke="#7a7a7a" stroke-width="5.6" fill="none"/>
<path d="M218.7 1697.4H2031.9" stroke="#8e8e8e" stroke-width="6" fill="none"/>
<path d="M220.2 1540V1700M2030.4 1540V1700" stroke="#111" stroke-width="3" fill="none"/>
<g stroke-width="5" fill="none">
<path stroke="#4d4d4d" d="M225.4 1583.3H361.4"/>
<path stroke="#f33b3e" d="M793 1583.3H930"/>
<path stroke="#1467dd" d="M1441 1583.3H1576.6"/>
<path stroke="#3aae6d" d="M225.4 1655.5H361.4"/>
<path stroke="#b477e0" d="M793 1655.5H930"/>
<path stroke="#cf9f0b" d="M1441 1655.5H1576.6"/>
</g>
<rect x="1236" y="1725" width="40" height="20" fill="#fdfdfd"/>
<g stroke="#000" stroke-width="4.6">
<path d="M1253 1699L1216.8 1769"/>
<path d="M1290.1 1699L1254 1769"/>
</g>
<g font-family="Liberation Sans, Arial, sans-serif" font-weight="bold" fill="#000">
<text font-size="50" font-style="italic" stroke="#fdfdfd" stroke-width="0.6" transform="translate(614.79 122.49) scale(1.0171 1.0294)">3600-3062</text>
<text font-size="50" font-style="italic" stroke="#fdfdfd" stroke-width="0.6" transform="translate(1017.05 72.50) scale(0.9850 1.0236)">2937</text>
<text font-size="50" font-style="italic" stroke="#fdfdfd" stroke-width="0.6" transform="translate(1060.64 137.49) scale(0.9895 1.0461)">2831</text>
<text font-size="50" font-style="italic" stroke="#fdfdfd" stroke-width="0.6" transform="translate(1283.57 130.29) scale(0.9983 1.0233)">1730</text>
<text font-size="50" font-style="italic" stroke="#fdfdfd" stroke-width="0.6" transform="translate(1406.17 69.30) scale(0.9929 1.0007)">1587</text>
<text font-size="50" font-style="italic" stroke="#fdfdfd" stroke-width="0.6" transform="translate(1493.19 133.69) scale(0.9939 1.0409)">1506</text>
<text font-size="50" font-style="italic" stroke="#fdfdfd" stroke-width="0.6" transform="translate(1696.77 131.31) scale(1.0036 0.9781)">1340</text>
<text font-size="50" font-style="italic" stroke="#fdfdfd" stroke-width="0.6" transform="translate(1835.37 135.89) scale(1.0312 1.0290)">1123</text>
<text font-size="56.5" font-style="normal" transform="translate(374.10 1603.30) scale(1.0223 1.0710)">PVA/A-80/20-0;</text>
<text font-size="56.5" font-style="normal" transform="translate(941.14 1603.30) scale(1.0203 1.0710)">PVA/A-80/20-0.15;</text>
<text font-size="56.5" font-style="normal" transform="translate(1588.53 1603.30) scale(1.0148 1.0710)">PVA/A-80/20-0.3</text>
<text font-size="56.5" font-style="normal" transform="translate(374.10 1675.70) scale(1.0223 1.0710)">PVA/A-60/40-0;</text>
<text font-size="56.5" font-style="normal" transform="translate(941.14 1675.70) scale(1.0203 1.0710)">PVA/A-60/40-0.15;</text>
<text font-size="56.5" font-style="normal" transform="translate(1588.53 1675.70) scale(1.0148 1.0710)">PVA/A-60/40-0.3</text>
<text font-size="61.5" font-style="normal" transform="translate(123.99 1840.63) scale(1.0264 1.0940)">4000</text>
<text font-size="61.5" font-style="normal" transform="translate(523.96 1840.63) scale(1.0268 1.0940)">3500</text>
<text font-size="61.5" font-style="normal" transform="translate(924.75 1840.63) scale(1.0270 1.0940)">3000</text>
<text font-size="61.5" font-style="normal" transform="translate(1459.63 1840.63) scale(1.0443 1.0940)">1500</text>
<text font-size="61.5" font-style="normal" transform="translate(1892.83 1840.63) scale(1.0443 1.0940)">1000</text>
<text font-size="93.5" font-style="normal" transform="translate(822.79 2006.20) scale(1.0055 1.0563)">Wavenumber (cm</text>
<text font-size="56" font-style="normal" transform="translate(1604.24 1952.20) scale(0.8322 1.0675)">-1</text>
<text font-size="93.5" font-style="normal" transform="translate(1657.00 2004.93) scale(0.8508 0.9932)">)</text>
<text font-size="96.5" transform="translate(98.00 1367.61) rotate(-90) scale(1.0070 1.0687)">Transmittance (a. u.)</text>
</g>
</svg>
</body></html>
